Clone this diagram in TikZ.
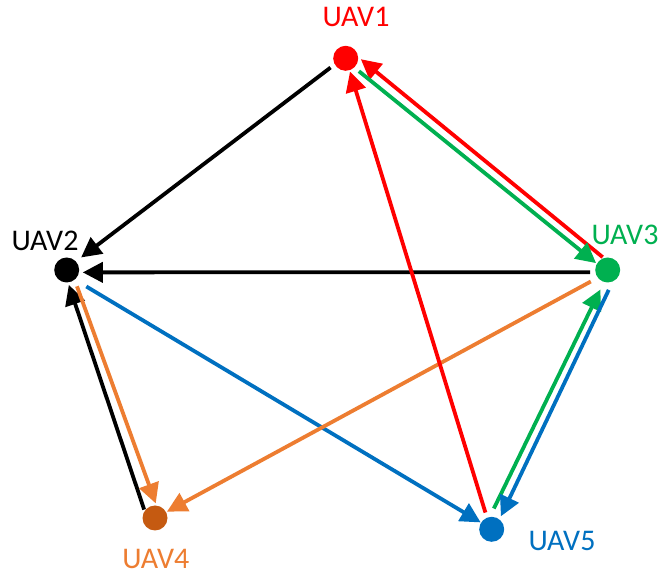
\documentclass[tikz,border=0pt]{standalone}
\usepackage{fontspec}
\setmainfont{Carlito}
\usetikzlibrary{arrows.meta}
\tikzset{>={Triangle[length=20pt,width=20pt]}}
\definecolor{uavred}{HTML}{FF0000}
\definecolor{uavgreen}{HTML}{00B050}
\definecolor{uavblue}{HTML}{0070C0}
\definecolor{uavorange}{HTML}{ED7D31}
\definecolor{uavbrown}{HTML}{C55A11}

\begin{document}
\begin{tikzpicture}[x=1pt,y=1pt]
  \fontsize{30}{36}\selectfont
  
  % USER SETTINGS
  \def\r{25pt}   % node diameter
  \def\lw{3.8pt} % line width
  \useasboundingbox (0,0) rectangle (665,576);
  
  % STYLES
  \tikzset{
    uav/.style={circle,fill=#1,minimum size=\r,inner sep=0pt,outer sep=0pt},
    uavlab/.style={text=#1,inner sep=0pt},
  }
  
  % HELP FUNCTION
  \def\link(#1,#2,#3,#4,#5){ % colour, from.angle, gap, to.angle, gap
    \draw[->,line width=\lw,#1,shorten <=#3pt,shorten >=#5pt] (#2) -- (#4);
  }
  
  % UAVS
  \foreach \n/\x/\y/\c/\lx/\ly/\lc in {
      1/345.7/517.7/uavred/356/559.3/uavred,
      2/66.7/306/black/45/335/black,
      3/607.7/306/uavgreen/625/341/uavgreen,
      4/155/58/uavbrown/155.8/17/uavorange,
      5/491.7/46.7/uavblue/562/35/uavblue}{
    \node[uav=\c] (u\n) at (\x,\y) {};
    \node[uavlab=\lc] (l\n) at (\lx,\ly) {UAV\n};
  }
  
  % LINKS
  \link(black,u1.209,5.3,u2.43,6.6)       % 1 -> 2
  \link(black,u3.190,5.3,u2.349,3.8)      % 3 -> 2
  \link(black,u4.146,1.5,u2.276,2.6)      % 4 -> 2
  \link(uavorange,u2.309,7,u4.83,2.3)     % 2 -> 4
  \link(uavblue,u2.310,13.5,u5.148,0.5)   % 2 -> 5
  \link(uavorange,u3.218,8,u4.28,1)       % 3 -> 4
  \link(uavred,u3.108,1.5,u1.6,3.5)       % 3 -> 1
  \link(uavgreen,u1.313,6,u3.150,1)       % 1 -> 3
  \link(uavred,u5.112,5.4,u1.288,1.5)     % 5 -> 1
  \link(uavgreen,u5.99,9.4,u3.253,8.4)    % 5 -> 3
  \link(uavblue,u3.294,9.4,u5.52,3.5)     % 3 -> 5
  
\end{tikzpicture}
\end{document}
